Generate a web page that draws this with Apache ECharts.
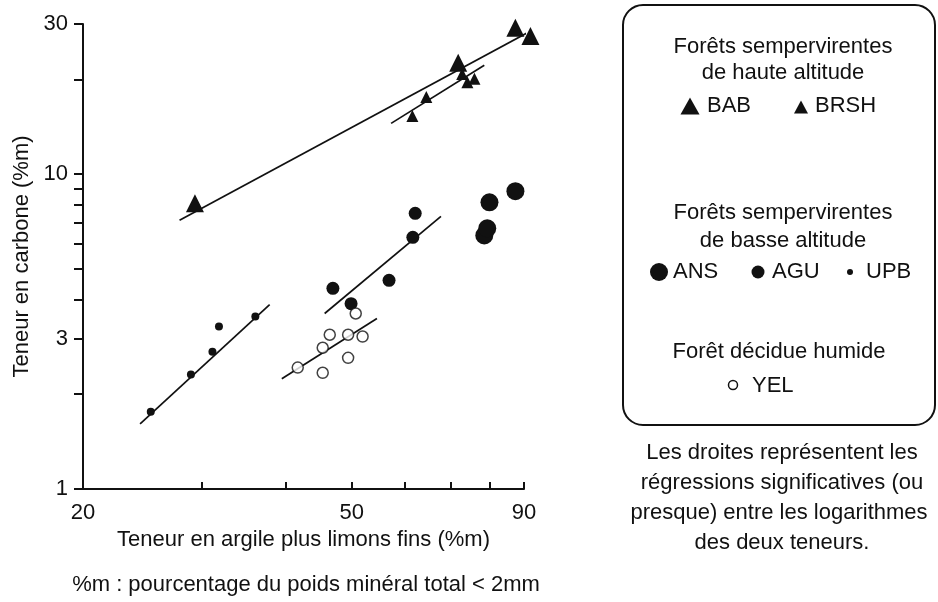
<!DOCTYPE html>
<html>
<head>
<meta charset="utf-8">
<script src="https://cdn.jsdelivr.net/npm/echarts@6/dist/echarts.min.js"></script>
<style>
html,body{margin:0;padding:0;background:#fff;}
#c{width:938px;height:602px;}
</style>
</head>
<body>
<div id="c"></div>
<script>
// ---- data ----
const xTicks = [20, 30, 40, 50, 60, 70, 80, 90];
const xLabels = [20, 50, 90];
const yTicks = [1, 2, 3, 4, 5, 6, 7, 8, 9, 10, 20, 30];
const yLabels = [1, 3, 10, 30];

const babX = [29.3, 71.9, 87.4, 92.0];
const babY = [8.08, 22.6, 29.2, 27.5];
const brshX = [61.5, 64.5, 72.9, 74.2, 76.0];
const brshY = [15.3, 17.6, 20.8, 19.6, 20.1];
const ansX = [78.6, 79.4, 80.0, 87.4];
const ansY = [6.39, 6.73, 8.14, 8.83];
const aguX = [46.9, 49.9, 56.8, 61.6, 62.1];
const aguY = [4.34, 3.88, 4.60, 6.30, 7.51];
const upbX = [25.2, 28.9, 31.1, 31.8, 36.0];
const upbY = [1.76, 2.31, 2.73, 3.28, 3.53];
const yelX = [41.6, 45.3, 45.3, 46.4, 49.4, 49.4, 50.7, 51.9];
const yelY = [2.43, 2.34, 2.81, 3.09, 3.09, 2.61, 3.61, 3.05];

// regression lines (end points)
const babLineX = [27.8, 96.2];
const babLineY = [7.14, 30.0];
const brshLineX = [57.2, 78.6];
const brshLineY = [14.5, 22.2];
const aguLineX = [45.6, 67.8];
const aguLineY = [3.61, 7.35];
const yelLineX = [39.4, 54.5];
const yelLineY = [2.24, 3.48];
const upbLineX = [24.3, 37.8];
const upbLineY = [1.61, 3.85];

// ---- chart ----
const INK = '#111';
const FONT = '"Liberation Sans", Arial, Helvetica, sans-serif';
const zip = (xs, ys) => xs.map((x, i) => [x, ys[i]]);

const chart = echarts.init(document.getElementById('c'), null, {renderer: 'canvas'});

function scatter(name, xs, ys, symbol, size, open) {
  return {
    name: name, type: 'scatter', data: zip(xs, ys), symbol: symbol, symbolSize: size,
    clip: false, silent: true,
    itemStyle: open ? {color: '#fff', borderColor: INK, borderWidth: 1.5} : {color: INK, opacity: 1}
  };
}
function regLine(name, xs, ys) {
  return {
    name: name, type: 'line', data: zip(xs, ys), symbol: 'none', showSymbol: false,
    clip: false, silent: true, z: 1,
    lineStyle: {color: INK, width: 1.7}
  };
}

const textStyleBase = {fill: INK, font: '22px ' + FONT, align: 'center', verticalAlign: 'middle'};
function txt(t, x, y, align) {
  return {type: 'text', style: Object.assign({}, textStyleBase, {text: t, x: x, y: y, align: align || 'center'})};
}
function tri(cx, cy, w, h) {
  return {type: 'polygon', shape: {points: [[cx - w / 2, cy + h / 2], [cx + w / 2, cy + h / 2], [cx, cy - h / 2]]}, style: {fill: INK}};
}
function dot(cx, cy, r, open) {
  return {type: 'circle', shape: {cx: cx, cy: cy, r: r}, style: open ? {fill: '#fff', stroke: INK, lineWidth: 1.5} : {fill: INK}};
}

const option = {
  backgroundColor: '#fff',
  animation: false,
  textStyle: {fontFamily: FONT, color: INK},
  grid: {left: 83, right: 414, top: 24, bottom: 113, containLabel: false},
  xAxis: {
    type: 'log', logBase: 10, min: 20, max: 90,
    name: 'Teneur en argile plus limons fins (%m)', nameLocation: 'middle', nameGap: 38,
    nameTextStyle: {fontSize: 22, color: INK, fontFamily: FONT},
    axisLine: {show: true, onZero: false, lineStyle: {color: INK, width: 2}},
    axisTick: {show: true, inside: true, length: 7, lineStyle: {color: INK, width: 2}, customValues: xTicks},
    axisLabel: {show: true, margin: 13, fontSize: 22, color: INK, fontFamily: FONT, customValues: xLabels},
    splitLine: {show: false}, minorTick: {show: false}, minorSplitLine: {show: false}
  },
  yAxis: {
    type: 'log', logBase: 10, min: 1, max: 30,
    name: 'Teneur en carbone (%m)', nameLocation: 'middle', nameGap: 50,
    nameTextStyle: {fontSize: 22, color: INK, fontFamily: FONT},
    axisLine: {show: true, onZero: false, lineStyle: {color: INK, width: 2}},
    axisTick: {show: true, inside: false, length: 9, lineStyle: {color: INK, width: 2}, customValues: yTicks},
    axisLabel: {show: true, margin: 15, fontSize: 22, color: INK, fontFamily: FONT, customValues: yLabels},
    splitLine: {show: false}, minorTick: {show: false}, minorSplitLine: {show: false}
  },
  series: [
    regLine('BAB régression', babLineX, babLineY),
    regLine('BRSH régression', brshLineX, brshLineY),
    regLine('AGU régression', aguLineX, aguLineY),
    regLine('YEL régression', yelLineX, yelLineY),
    regLine('UPB régression', upbLineX, upbLineY),
    scatter('BAB', babX, babY, 'triangle', 18, false),
    scatter('BRSH', brshX, brshY, 'triangle', 12, false),
    scatter('ANS', ansX, ansY, 'circle', 18, false),
    scatter('AGU', aguX, aguY, 'circle', 13, false),
    scatter('UPB', upbX, upbY, 'circle', 8, false),
    scatter('YEL', yelX, yelY, 'circle', 11, true)
  ],
  graphic: [
    // footnote under the x axis
    txt('%m : pourcentage du poids minéral total < 2mm', 306, 585),
    // legend box
    {type: 'rect', shape: {x: 623, y: 5, width: 312, height: 420, r: 20}, style: {fill: 'none', stroke: INK, lineWidth: 2}},
    txt('Forêts sempervirentes', 783, 47),
    txt('de haute altitude', 783, 73),
    tri(690, 106, 19, 17), txt('BAB', 707, 106, 'left'),
    tri(801, 107, 14, 13), txt('BRSH', 815, 106, 'left'),
    txt('Forêts sempervirentes', 783, 213),
    txt('de basse altitude', 783, 241),
    dot(659, 272, 9, false), txt('ANS', 673, 272, 'left'),
    dot(758, 272, 6.5, false), txt('AGU', 772, 272, 'left'),
    dot(850, 272, 3, false), txt('UPB', 866, 272, 'left'),
    txt('Forêt décidue humide', 779, 352),
    dot(733, 385, 4.5, true), txt('YEL', 752, 386, 'left'),
    // note below the box
    txt('Les droites représentent les', 782, 453),
    txt('régressions significatives (ou', 782, 483),
    txt('presque) entre les logarithmes', 779, 513),
    txt('des deux teneurs.', 782, 543)
  ]
};
chart.setOption(option);
</script>
</body>
</html>
